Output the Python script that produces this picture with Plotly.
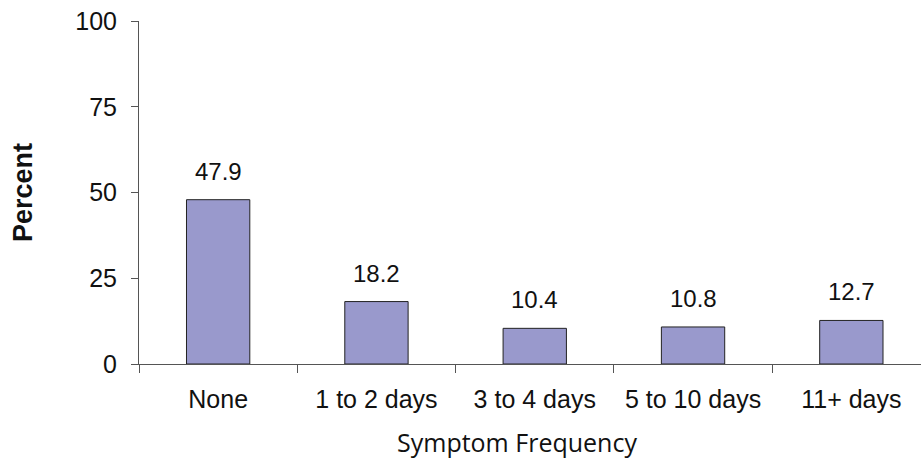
import plotly.graph_objects as go

categories = ["None", "1 to 2 days", "3 to 4 days", "5 to 10 days", "11+ days"]
values = [47.9, 18.2, 10.4, 10.8, 12.7]
value_labels = ["47.9", "18.2", "10.4", "10.8", "12.7"]
y_ticks = [0, 25, 50, 75, 100]

AX = "#555555"
FONT = "Liberation Sans, Arial, sans-serif"

fig = go.Figure(
    go.Bar(
        x=categories,
        y=values,
        width=0.40,
        marker=dict(color="#9999CC", line=dict(color="#222222", width=1)),
        hoverinfo="skip",
    )
)

for c, v, t in zip(categories, values, value_labels):
    fig.add_annotation(
        x=c, y=v, text=t, showarrow=False, yanchor="bottom", yshift=13,
        font=dict(family=FONT, size=24, color="#111111"),
    )

# x-axis title placed as annotation (reference is not centred on the axis)
fig.add_annotation(
    x=0.4834, xref="paper", y=0, yref="paper", yshift=-59, yanchor="top",
    text="Symptom Frequency", showarrow=False,
    font=dict(family="Open Sans, Noto Sans, sans-serif", size=25, color="#111111"),
)

fig.update_layout(
    width=921,
    height=460,
    margin=dict(l=139, r=0, t=21, b=96),
    paper_bgcolor="white",
    plot_bgcolor="white",
    showlegend=False,
    font=dict(family=FONT, color="#111111"),
)

fig.update_xaxes(
    type="category",
    range=[-0.5, 4.44],
    showline=True,
    linecolor=AX,
    linewidth=1,
    ticks="outside",
    tickson="boundaries",
    ticklen=8,
    tickcolor=AX,
    showgrid=False,
    zeroline=False,
    ticklabelstandoff=13,
    tickfont=dict(family=FONT, size=25, color="#111111"),
)

fig.update_yaxes(
    range=[0, 100],
    tickvals=y_ticks,
    ticktext=[str(t) for t in y_ticks],
    showline=True,
    linecolor=AX,
    linewidth=1,
    ticks="outside",
    ticklen=7,
    tickcolor=AX,
    showgrid=False,
    zeroline=False,
    ticklabelstandoff=9,
    tickfont=dict(family=FONT, size=25, color="#111111"),
    title=dict(
        text="<b>Percent</b>",
        font=dict(family=FONT, size=27, color="#111111"),
        standoff=34,
    ),
)

fig.write_html("out.html")
